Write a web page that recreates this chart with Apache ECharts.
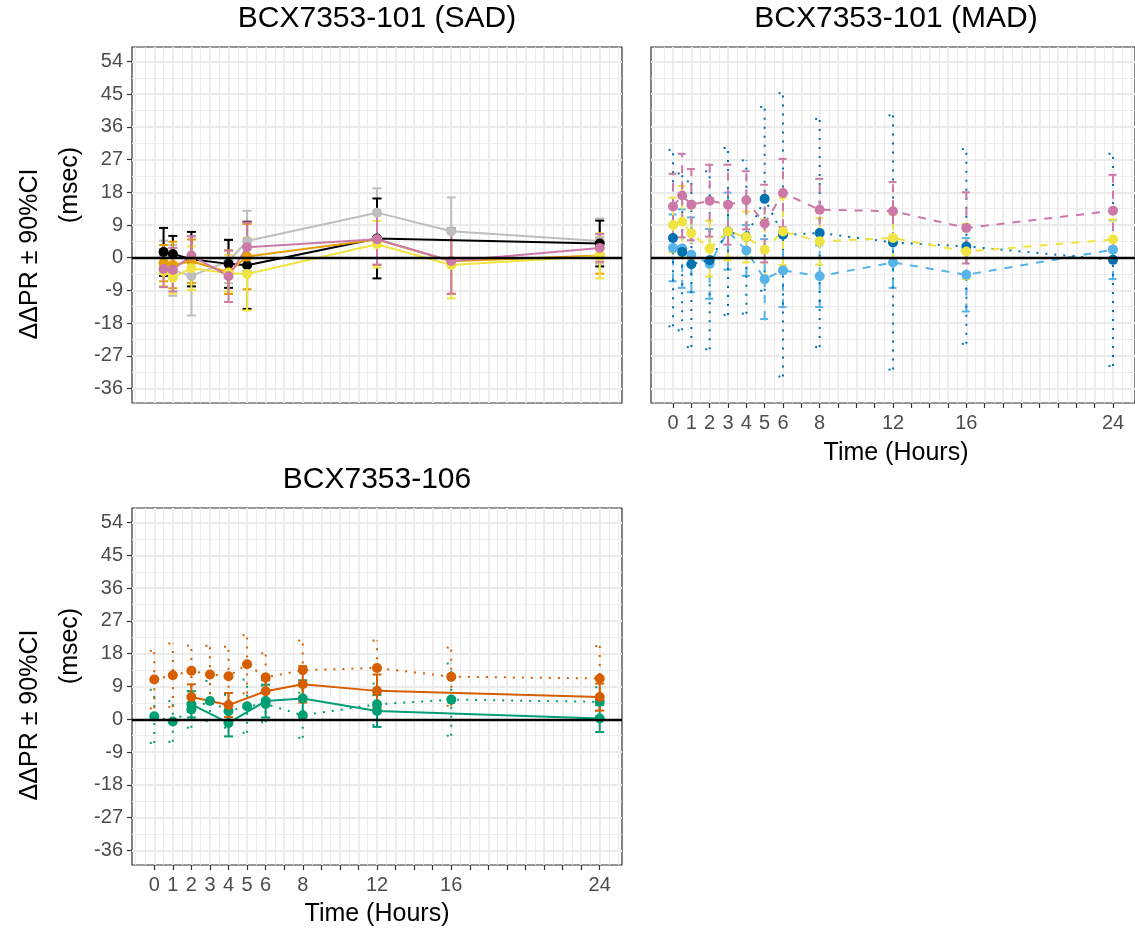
<!DOCTYPE html>
<html lang="en">
<head>
<meta charset="UTF-8">
<title>BCX7353 ddPR</title>
<script src="https://cdn.jsdelivr.net/npm/echarts@6.0.0/dist/echarts.min.js"></script>
<style>
    body { margin: 0; background: #fff; }
    #main { width: 1135px; height: 930px; }
</style>
</head>
<body>
<div id="main"></div>
<script>
// tick labels / grid breaks
var yTicks = [-36, -27, -18, -9, 0, 9, 18, 27, 36, 45, 54];
var yMinor = [-36, -31.5, -27, -22.5, -18, -13.5, -9, -4.5, 0, 4.5, 9, 13.5, 18, 22.5, 27, 31.5, 36, 40.5, 45, 49.5, 54];
var xLabels = [0, 1, 2, 3, 4, 5, 6, 8, 12, 16, 24];
var xTicks = [0, 1, 2, 3, 4, 5, 6, 7, 8, 9, 10, 11, 12, 13, 14, 15, 16, 17, 18, 19, 20, 21, 22, 23, 24];
var xMinor = [-1, -0.5, 0, 0.5, 1, 1.5, 2, 2.5, 3, 3.5, 4, 4.5, 5, 5.5, 6, 6.5, 7, 7.5, 8, 8.5, 9, 9.5, 10, 10.5,
    11, 11.5, 12, 12.5, 13, 13.5, 14, 14.5, 15, 15.5, 16, 16.5, 17, 17.5, 18, 18.5, 19, 19.5, 20, 20.5,
    21, 21.5, 22, 22.5, 23, 23.5, 24, 24.5, 25];

// BCX7353-101 (SAD): mean and 90% CI half width
var sadTimes = [0.5, 1, 2, 4, 5, 12, 16, 24];
var sadBlackTimes = [0.5, 1, 2, 4, 5, 12, 24];
var sadGrey = [0.5, -3.5, -5.0, -1.0, 4.6, 12.4, 7.3, 4.6];
var sadGreyCI = [4.2, 7.0, 10.9, 6.0, 8.3, 6.7, 9.3, 6.2];
var sadBlack = [1.6, 1.0, -0.4, -1.7, -2.1, 5.3, 3.9];
var sadBlackCI = [6.6, 5.0, 7.5, 6.6, 12.0, 11.0, 6.3];
var sadOrange = [-1.5, -2.0, -1.0, -4.0, 0.3, 5.0, -1.0, 0.6];
var sadOrangeCI = [5.0, 6.4, 6.0, 6.0, 9.0, 7.0, 9.0, 5.0];
var sadYellow = [-3.8, -5.5, -2.9, -4.3, -4.5, 3.7, -2.0, 0.5];
var sadYellowCI = [4.0, 4.4, 6.0, 5.0, 10.0, 6.4, 9.2, 6.2];
var sadPink = [-3.1, -3.3, 0.6, -5.1, 2.9, 5.1, -0.9, 2.7];
var sadPinkCI = [5.0, 6.0, 5.3, 7.1, 6.8, 7.0, 9.0, 3.8];

// BCX7353-101 (MAD)
var madTimes = [0, 0.5, 1, 2, 3, 4, 5, 6, 8, 12, 16, 24];
var madSky = [2.7, 2.5, 0.8, -1.7, 7.3, 2.0, -5.9, -3.5, -5.1, -1.3, -4.7, 2.2];
var madSkyCI = [9.2, 10.8, 10.3, 9.6, 10.6, 7.0, 11.0, 10.1, 8.5, 7.0, 10.1, 8.1];
var madBlue = [5.4, 1.6, -1.8, -0.7, 7.2, 5.7, 16.2, 6.3, 6.8, 4.2, 3.1, -0.6];
var madBlueCI = [24.3, 21.6, 22.8, 24.5, 23.0, 21.1, 25.3, 39.0, 31.4, 35.0, 26.8, 29.2];
var madYellow = [9.0, 9.9, 6.7, 2.5, 7.2, 5.7, 2.2, 7.2, 4.5, 5.4, 1.7, 5.0];
var madYellowCI = [7.5, 9.8, 7.0, 7.7, 8.0, 7.0, 8.4, 9.2, 6.4, 6.5, 7.6, 5.5];
var madPink = [14.1, 17.1, 14.6, 15.7, 14.6, 15.8, 9.4, 17.8, 13.2, 12.8, 8.2, 12.9];
var madPinkCI = [9.0, 11.5, 9.8, 9.9, 11.0, 8.0, 10.7, 9.4, 8.5, 8.0, 9.8, 9.9];

// BCX7353-106
var t106 = [0, 1, 2, 3, 4, 5, 6, 8, 12, 16, 24];
var t106Solid = [2, 4, 6, 8, 12, 24];
var greenDot = [0.8, -0.6, 2.7, 5.0, 2.2, 3.6, 4.2, 1.1, 4.1, 5.4, 4.8];
var greenDotCI = [7.3, 5.6, 5.0, 5.5, 4.5, 7.3, 5.0, 6.2, 5.7, 9.9, 4.0];
var vermDot = [10.9, 12.1, 13.3, 12.3, 11.8, 15.1, 11.5, 13.5, 14.1, 11.7, 11.2];
var vermDotCI = [7.9, 8.7, 6.9, 7.9, 8.1, 8.0, 6.6, 8.1, 7.5, 8.0, 8.9];
var greenSolid = [4.1, -1.0, 5.0, 5.7, 2.3, 0.2];
var greenSolidCI = [3.6, 3.7, 4.5, 5.0, 4.4, 3.7];
var vermSolid = [6.1, 3.9, 7.7, 9.6, 7.8, 6.1];
var vermSolidCI = [3.5, 3.3, 3.0, 5.0, 4.5, 3.7];

var FONT = '"Liberation Sans", Arial, sans-serif';
var DASHED = [8, 8];
var DOTTED = [2, 7];

var myChart = echarts.init(document.getElementById('main'));

var grids = [
    {left: 132, top: 47, width: 490, height: 356},
    {left: 651, top: 47, width: 490, height: 356},
    {left: 132, top: 508, width: 490, height: 357}
];
var showX = [false, true, true];
var showY = [true, false, true];

var xAxes = [], yAxes = [];
for (var g = 0; g < 3; g++) {
    grids[g].show = true;
    grids[g].borderColor = '#333';
    grids[g].borderWidth = 1.2;
    grids[g].backgroundColor = '#fff';
    // major axis (labels, ticks, major grid)
    xAxes.push({
        gridIndex: g, type: 'value', min: -1.2, max: 25.2, position: 'bottom',
        axisLine: {show: false, onZero: false},
        axisTick: {show: showX[g], length: 5, customValues: xTicks, lineStyle: {color: '#333', width: 1.2}},
        axisLabel: {show: showX[g], customValues: xLabels, color: '#4d4d4d', fontSize: 20, fontFamily: FONT, margin: 10},
        splitLine: {show: true, lineStyle: {color: '#ebebeb', width: 1.8}}
    });
    // minor grid
    xAxes.push({
        gridIndex: g, type: 'value', min: -1.2, max: 25.2, position: 'bottom',
        axisLine: {show: false, onZero: false},
        axisTick: {show: false, customValues: xMinor},
        axisLabel: {show: false},
        splitLine: {show: true, lineStyle: {color: '#ebebeb', width: 0.9}}
    });
    yAxes.push({
        gridIndex: g, type: 'value', min: -40, max: 58, position: 'left',
        axisLine: {show: false, onZero: false},
        axisTick: {show: showY[g], length: 5, customValues: yTicks, lineStyle: {color: '#333', width: 1.2}},
        axisLabel: {show: showY[g], customValues: yTicks, color: '#4d4d4d', fontSize: 20, fontFamily: FONT, margin: 9},
        splitLine: {show: true, lineStyle: {color: '#ebebeb', width: 1.8}}
    });
    yAxes.push({
        gridIndex: g, type: 'value', min: -40, max: 58, position: 'left',
        axisLine: {show: false, onZero: false},
        axisTick: {show: false, customValues: yMinor},
        axisLabel: {show: false},
        splitLine: {show: true, lineStyle: {color: '#ebebeb', width: 0.9}}
    });
}

// error bar with caps, drawn in the series' own line type
function errBar(color, dash) {
    return function (params, api) {
        var x = api.value(0);
        var lo = api.coord([x, api.value(1)]);
        var hi = api.coord([x, api.value(2)]);
        var w = 4.5;
        var st = {stroke: color, lineWidth: 2, lineDash: dash || null, fill: null};
        return {
            type: 'group',
            children: [
                {type: 'line', shape: {x1: lo[0], y1: lo[1], x2: hi[0], y2: hi[1]}, style: st},
                {type: 'line', shape: {x1: hi[0] - w, y1: hi[1], x2: hi[0] + w, y2: hi[1]}, style: st},
                {type: 'line', shape: {x1: lo[0] - w, y1: lo[1], x2: lo[0] + w, y2: lo[1]}, style: st}
            ]
        };
    };
}

var series = [];
function addGroup(g, times, vals, ci, color, dash) {
    var pts = [], bars = [];
    for (var i = 0; i < times.length; i++) {
        pts.push([times[i], vals[i]]);
        bars.push([times[i], vals[i] - ci[i], vals[i] + ci[i]]);
    }
    series.push({
        type: 'custom', xAxisIndex: g * 2, yAxisIndex: g * 2, data: bars,
        renderItem: errBar(color, dash), clip: true, silent: true, z: 3,
        encode: {x: 0, y: [1, 2]}
    });
    series.push({
        type: 'line', xAxisIndex: g * 2, yAxisIndex: g * 2, data: pts,
        symbol: 'circle', symbolSize: 10, showSymbol: true, clip: true,
        lineStyle: {color: color, width: 2, type: dash || 'solid'},
        itemStyle: {color: color}, z: 4
    });
}

// zero reference line on each panel
for (var k = 0; k < 3; k++) {
    series.push({
        type: 'line', xAxisIndex: k * 2, yAxisIndex: k * 2, data: [], z: 3.5,
        markLine: {
            silent: true, symbol: ['none', 'none'], label: {show: false},
            lineStyle: {color: '#000', width: 2.3, type: 'solid'},
            data: [{yAxis: 0}]
        }
    });
}

addGroup(0, sadTimes, sadGrey, sadGreyCI, '#BEBEBE');
addGroup(0, sadBlackTimes, sadBlack, sadBlackCI, '#000000');
addGroup(0, sadTimes, sadOrange, sadOrangeCI, '#E69F00');
addGroup(0, sadTimes, sadYellow, sadYellowCI, '#F0E442');
addGroup(0, sadTimes, sadPink, sadPinkCI, '#CC79A7');

addGroup(1, madTimes, madSky, madSkyCI, '#56B4E9', DASHED);
addGroup(1, madTimes, madBlue, madBlueCI, '#0072B2', DOTTED);
addGroup(1, madTimes, madYellow, madYellowCI, '#F0E442', DASHED);
addGroup(1, madTimes, madPink, madPinkCI, '#CC79A7', DASHED);

addGroup(2, t106, greenDot, greenDotCI, '#009E73', DOTTED);
addGroup(2, t106, vermDot, vermDotCI, '#D55E00', DOTTED);
addGroup(2, t106Solid, greenSolid, greenSolidCI, '#009E73');
addGroup(2, t106Solid, vermSolid, vermSolidCI, '#D55E00');

function txt(x, y, s, size, rot) {
    return {
        type: 'text', x: x, y: y, rotation: rot || 0, silent: true,
        style: {text: s, font: size + 'px ' + FONT, fill: '#000',
            align: 'center', verticalAlign: 'middle', textAlign: 'center', textVerticalAlign: 'middle'}
    };
}

var option = {
    animation: false,
    backgroundColor: '#fff',
    grid: grids,
    xAxis: xAxes,
    yAxis: yAxes,
    series: series,
    graphic: [
        txt(377, 19, 'BCX7353-101 (SAD)', 30),
        txt(896, 19, 'BCX7353-101 (MAD)', 30),
        txt(377, 480, 'BCX7353-106', 30),
        txt(896, 453, 'Time (Hours)', 25),
        txt(377, 914, 'Time (Hours)', 25),
        txt(30, 254, 'ΔΔPR ± 90%CI', 25, Math.PI / 2),
        txt(70, 185, '(msec)', 25, Math.PI / 2),
        txt(30, 715, 'ΔΔPR ± 90%CI', 25, Math.PI / 2),
        txt(70, 646, '(msec)', 25, Math.PI / 2)
    ]
};
myChart.setOption(option);
</script>
</body>
</html>
